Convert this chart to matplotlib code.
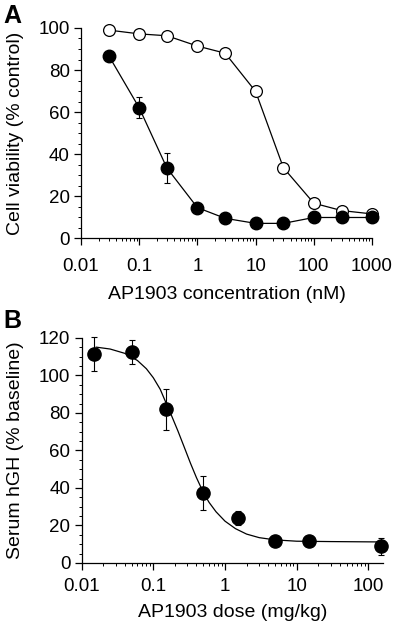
import matplotlib
matplotlib.use("Agg")
import matplotlib.pyplot as plt
from matplotlib.ticker import LogLocator, NullFormatter, FixedLocator, FixedFormatter, AutoMinorLocator

plt.rcParams['font.family'] = ['Liberation Sans', 'DejaVu Sans']

# panel A: cell viability vs AP1903 concentration (nM)
conc = [0.03, 0.1, 0.3, 1, 3, 10, 30, 100, 300, 1000]
open_y = [99.0, 97.2, 96.3, 91.4, 88.0, 69.8, 33.5, 16.6, 13.1, 11.5]
open_err = [0.5, 1.5, 0.6, 1.5, 0.6, 1.0, 1.0, 1.6, 1.0, 0.5]
fill_y = [86.8, 62.0, 33.3, 14.5, 9.4, 7.0, 7.0, 9.8, 9.8, 9.8]
fill_err = [1.6, 5.0, 7.2, 0.5, 0.5, 0.5, 0.5, 0.5, 0.5, 0.5]

# panel B: serum hGH vs AP1903 dose (mg/kg)
dose = [0.015, 0.05, 0.15, 0.5, 1.5, 5, 15, 150]
hgh = [111.5, 112.5, 82.0, 37.5, 24.0, 11.5, 11.5, 9.0]
hgh_err = [9.0, 6.5, 11.0, 9.0, 3.5, 2.5, 1.0, 4.5]
# fitted curve
fit_x = [0.016, 0.025, 0.04, 0.06, 0.08, 0.1, 0.125, 0.15, 0.18, 0.22, 0.27,
         0.33, 0.4, 0.5, 0.6, 0.75, 1.0, 1.4, 2.0, 3.0, 5.0, 10, 30, 160]
fit_y = [115.1, 114.1, 111.8, 108.0, 103.6, 98.8, 92.6, 85.5, 78.5, 70.5, 61.8,
         53.2, 45.5, 37.5, 32.3, 27.3, 22.3, 18.3, 15.4, 13.5, 12.3, 11.6, 11.4, 11.2]

FS = 13.5
LFS = 14

fig = plt.figure(figsize=(4.0, 6.29), dpi=100)
axA = fig.add_axes([0.2025, 0.6215, 0.7275, 0.3340])
axB = fig.add_axes([0.204, 0.105, 0.7535, 0.3577])


def style(ax, xpad):
    ax.set_xscale('log')
    for s in ['top', 'right']:
        ax.spines[s].set_visible(False)
    for s in ['left', 'bottom']:
        ax.spines[s].set_linewidth(0.9)
    ax.tick_params(which='major', direction='out', length=5, width=0.9,
                   labelsize=FS, pad=3)
    ax.tick_params(which='minor', direction='out', length=2.5, width=0.7)
    ax.tick_params(axis='x', which='major', pad=xpad)
    ax.xaxis.set_minor_locator(LogLocator(base=10, subs=range(2, 10)))
    ax.xaxis.set_minor_formatter(NullFormatter())
    ax.yaxis.set_minor_locator(AutoMinorLocator(4))


# ---- A ----
style(axA, 9)
axA.plot(conc, open_y, color='black', lw=0.9, zorder=2)
axA.plot(conc, fill_y, color='black', lw=0.9, zorder=2)
axA.errorbar(conc, open_y, yerr=open_err, fmt='o', ms=8.5, mfc='white',
             mec='black', mew=0.9, ecolor='black', elinewidth=0.8,
             capsize=2, capthick=0.8, zorder=3, clip_on=False)
axA.errorbar(conc, fill_y, yerr=fill_err, fmt='o', ms=9, mfc='black',
             mec='black', ecolor='black', elinewidth=0.8,
             capsize=2, capthick=0.8, zorder=4, clip_on=False)
axA.set_xlim(0.01, 1000)
axA.set_ylim(0, 100)
xt = [0.01, 0.1, 1, 10, 100, 1000]
axA.xaxis.set_major_locator(FixedLocator(xt))
axA.xaxis.set_major_formatter(FixedFormatter(['0.01', '0.1', '1', '10', '100', '1000']))
axA.set_yticks([0, 20, 40, 60, 80, 100])
axA.set_xlabel('AP1903 concentration (nM)', fontsize=LFS, labelpad=8)
axA.set_ylabel('Cell viability (% control)', fontsize=LFS)
axA.yaxis.set_label_coords(-0.195, 0.5)

# ---- B ----
style(axB, 6)
axB.plot(fit_x, fit_y, color='black', lw=0.9, zorder=2)
axB.errorbar(dose, hgh, yerr=hgh_err, fmt='o', ms=9.5, mfc='black',
             mec='black', ecolor='black', elinewidth=0.8,
             capsize=2, capthick=0.8, zorder=4, clip_on=False)
axB.set_xlim(0.01, 160)
axB.set_ylim(0, 120)
xt = [0.01, 0.1, 1, 10, 100]
axB.xaxis.set_major_locator(FixedLocator(xt))
axB.xaxis.set_major_formatter(FixedFormatter(['0.01', '0.1', '1', '10', '100']))
axB.set_yticks([0, 20, 40, 60, 80, 100, 120])
axB.set_xlabel('AP1903 dose (mg/kg)', fontsize=LFS, labelpad=6)
axB.set_ylabel('Serum hGH (% baseline)', fontsize=LFS)
axB.yaxis.set_label_coords(-0.19, 0.5)

fig.text(0.008, 0.955, 'A', fontsize=18, fontweight='bold', va='bottom')
fig.text(0.008, 0.470, 'B', fontsize=18, fontweight='bold', va='bottom')

fig.savefig('out.png', dpi=100)
